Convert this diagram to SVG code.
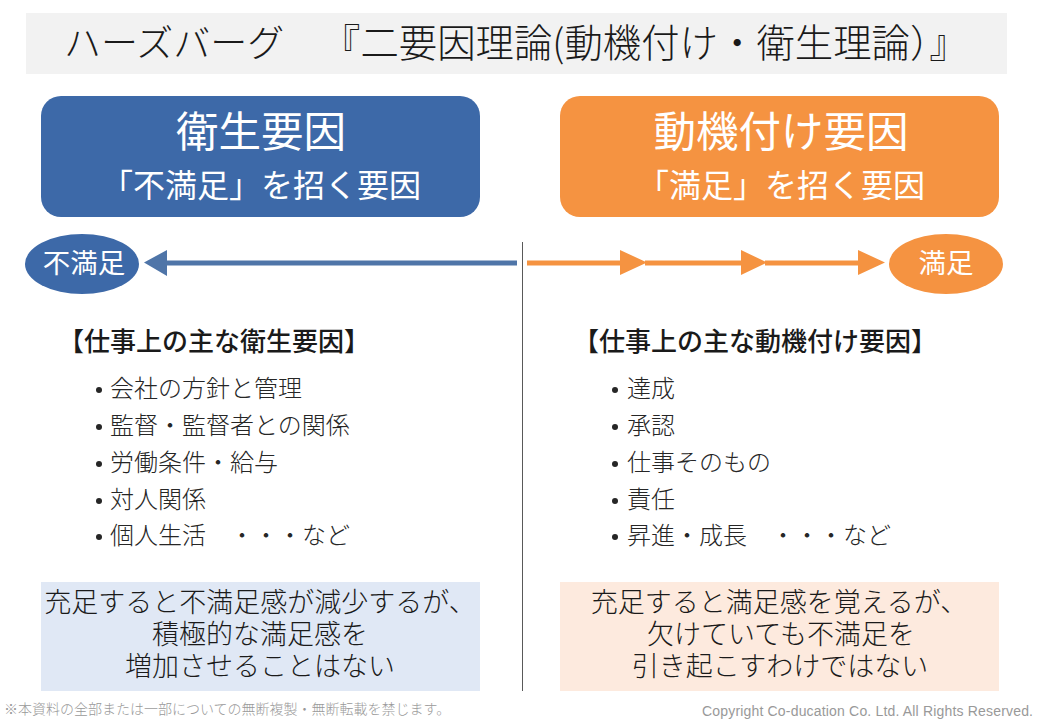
<svg xmlns="http://www.w3.org/2000/svg" width="1040" height="720" viewBox="0 0 1040 720">
<style>
text{font-family:"Noto Sans CJK JP","Noto Sans",sans-serif;font-weight:400}
.d{fill:#1a1a1a}
.t{font-size:37px;font-weight:300}
.t2{font-size:38.400px;font-weight:300}
.h{font-size:42.500px;fill:#fff;text-anchor:middle}
.s{font-size:32px;fill:#fff;text-anchor:middle}
.o{font-size:27.500px;fill:#fff;text-anchor:middle}
.b{font-size:26px;font-weight:500;fill:#1a1a1a}
.l{font-size:24px;fill:#262626;font-weight:300}
.c{font-size:27px;fill:#1a1a1a;text-anchor:middle;font-weight:300}
.f{font-size:14px;fill:#999;font-weight:300}
</style>
<rect width="1040" height="720" fill="#fff"/>
<g id="title"><rect x="26" y="13" width="981" height="61" fill="#f2f2f2"/>
<text class="t d" x="64" y="57">ハーズバーグ</text><text class="t2 d" x="322" y="57">『二要因理論(動機付け・衛生理論）』</text></g>
<g id="hygiene-header"><rect x="41" y="96" width="439" height="121" rx="20" fill="#3d69a8"/>
<text class="h" x="261" y="147">衛生要因</text><text class="s" x="261" y="197">「不満足」を招く要因</text></g>
<g id="motivator-header"><rect x="560" y="96" width="439" height="121" rx="20" fill="#f59341"/>
<text class="h" x="781" y="147">動機付け要因</text><text class="s" x="781" y="197">「満足」を招く要因</text></g>
<g id="dissatisfied"><ellipse cx="82" cy="264" rx="57" ry="30" fill="#3d69a8"/><text class="o" x="84" y="273">不満足</text></g>
<g id="satisfied"><ellipse cx="946" cy="264" rx="57" ry="30" fill="#f59341"/><text class="o" x="946" y="273">満足</text></g>
<g id="connectors">
<line x1="522.500" y1="242" x2="522.500" y2="691" stroke="#595959" stroke-width="1"/>
<path d="M517 260.500V265.500H167V276L144 262.500L167 250V260.500Z" fill="#4f75a8"/>
<path d="M527 260.500H620V250L647 262.500L620 275V265.500H527Z" fill="#f59341"/>
<path d="M645 260.500H741V250L767 262.500L741 275V265.500H645Z" fill="#f59341"/>
<path d="M765 260.500H858V250L885 262.500L858 275V265.500H765Z" fill="#f59341"/>
</g>
<g id="hygiene-list"><text class="b" x="58" y="351">【仕事上の主な衛生要因】</text>
<g fill="#262626"><circle cx="99" cy="390" r="3"/><text class="l" x="110" y="397">会社の方針と管理</text>
<circle cx="99" cy="427" r="3"/><text class="l" x="110" y="434">監督・監督者との関係</text>
<circle cx="99" cy="464" r="3"/><text class="l" x="110" y="471">労働条件・給与</text>
<circle cx="99" cy="501" r="3"/><text class="l" x="110" y="508">対人関係</text>
<circle cx="99" cy="537" r="3"/><text class="l" x="110" y="544">個人生活　・・・など</text></g></g>
<g id="motivator-list"><text class="b" x="573" y="351">【仕事上の主な動機付け要因】</text>
<g fill="#262626"><circle cx="615" cy="390" r="3"/><text class="l" x="627" y="397">達成</text>
<circle cx="615" cy="427" r="3"/><text class="l" x="627" y="434">承認</text>
<circle cx="615" cy="464" r="3"/><text class="l" x="627" y="471">仕事そのもの</text>
<circle cx="615" cy="501" r="3"/><text class="l" x="627" y="508">責任</text>
<circle cx="615" cy="537" r="3"/><text class="l" x="627" y="544">昇進・成長　・・・など</text></g></g>
<g id="hygiene-note"><rect x="41" y="582" width="439" height="109" fill="#e0e8f5"/>
<text class="c" x="260" y="612">充足すると不満足感が減少するが、</text><text class="c" x="260" y="644">積極的な満足感を</text><text class="c" x="260" y="676">増加させることはない</text></g>
<g id="motivator-note"><rect x="560" y="582" width="439" height="109" fill="#fdeade"/>
<text class="c" x="779" y="612">充足すると満足感を覚えるが、</text><text class="c" x="781" y="644">欠けていても不満足を</text><text class="c" x="780" y="676">引き起こすわけではない</text></g>
<g id="footer"><text class="f" x="4" y="714">※本資料の全部または一部についての無断複製・無断転載を禁じます。</text>
<text class="f" x="702" y="716" textLength="331" style="font-family:'Liberation Sans',sans-serif">Copyright Co-ducation Co. Ltd. All Rights Reserved.</text></g>
</svg>
